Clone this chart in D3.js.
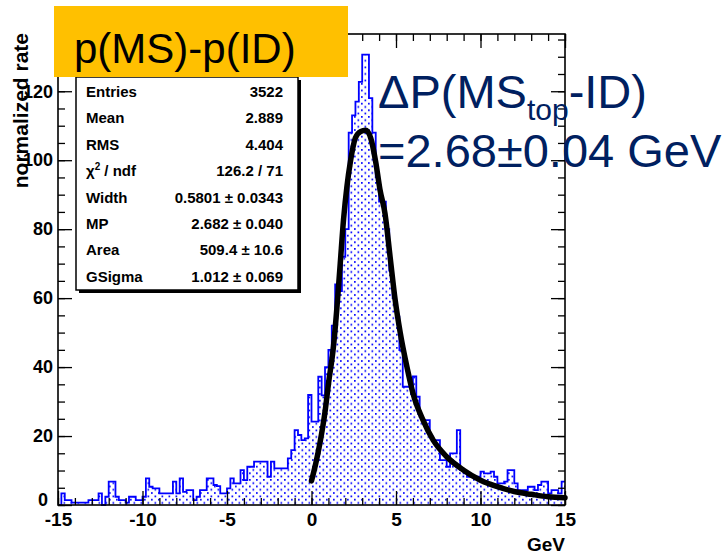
<!DOCTYPE html>
<html><head><meta charset="utf-8">
<script src="https://cdn.jsdelivr.net/npm/d3@7"></script>
<style>
body{margin:0;background:#fff}
svg{display:block}
text{font-family:"Liberation Sans",Arial,Helvetica,sans-serif}
</style>
</head><body>
<svg id="c" width="728" height="554"></svg>
<script>
// ---- data ----
const binStart = -15;
const binWidth = 0.2;
const binValues = [
  0,3.4,1.4,1.4,0.7,0.7,0.7,0.7,0.7,1.4,
  1.4,1.4,3.4,0,2.4,6.8,6.8,2.4,1.4,1.4,
  0.7,2.4,2.4,1.4,1.4,2.4,7.7,5.3,4.8,4.8,
  3.4,3.4,3.4,3.4,6.8,3.4,7.7,3.8,4.3,4.3,
  1.4,2.4,4.3,4.3,7.7,7.7,5.8,5.5,3.4,3.4,
  4.8,7.7,6.3,6.3,10.1,7.2,11.1,11.1,12.6,12.6,
  12.6,12.6,8.2,12.6,10.6,10.6,10.6,10.6,13.5,15.9,
  21.7,20.3,18.8,19.3,31.9,24.2,24.2,37.2,31.8,40,
  45,52,64,62,72,80,108,113,117,122.7,
  130.6,130.6,118,108,95,88,88,80,68,60,
  54.6,44.9,34.3,34.3,34.3,37.3,31.4,25.6,24.6,24.6,
  19.8,18.8,18.8,13.0,13.0,11.1,15.0,15.0,21.7,10.1,
  9.2,8.2,8.2,8.2,8.2,9.7,9.2,9.2,9.7,8.2,
  6.3,6.3,6.8,10.1,10.1,6.3,4.3,4.3,4.3,5.3,
  5.3,4.3,5.8,6.8,6.8,3.4,4.3,4.3,3.4,6.8
];
const fitX = [0,0.25,0.5,0.8,1.0,1.3,1.5,1.7,1.9,2.1,2.3,2.6,2.9,3.2,3.5,3.8,4.05,4.35,4.65,4.95,5.25,5.65,6.0,6.6,7.2,8.0,9.0,10.0,11.0,12.0,13.0,14.0,15.0];
const fitY = [7,12,18,27,35,46,57,70,83,92.5,99.5,106.5,108.3,108.7,106.5,99.5,91.5,84.5,72,59.5,50,40,32.5,24.6,18.8,14,10.1,7.2,5.3,3.9,3.1,2.4,2.1];
const xTickLabels = [-15,-10,-5,0,5,10,15];
const yTickLabels = [0,20,40,60,80,100,120];
const statNames = ["Entries","Mean","RMS","χ2 / ndf","Width","MP","Area","GSigma"];
const statValues = ["3522","2.889","4.404","126.2 / 71","0.5801 ± 0.0343","2.682 ± 0.040","509.4 ± 10.6","1.012 ± 0.069"];
const titleText = "p(MS)-p(ID)";
const yTitle = "normalized rate";
const xTitle = "GeV";

// ---- drawing ----
const svg = d3.select("#c");
const L = 58, R = 565, T = 34, B = 505;
const x = d3.scaleLinear().domain([-15, 15]).range([L, R]);
const y = d3.scaleLinear().domain([0, 136.6]).range([B, T]);

const defs = svg.append("defs");
const pat = defs.append("pattern").attr("id", "dots")
  .attr("patternUnits", "userSpaceOnUse").attr("width", 7).attr("height", 6.6);
pat.append("rect").attr("x", 0.5).attr("y", 0.5).attr("width", 1.7).attr("height", 1.7).attr("fill", "#0000ff");
pat.append("rect").attr("x", 4).attr("y", 3.8).attr("width", 1.7).attr("height", 1.7).attr("fill", "#0000ff");

const bins = binValues.map((v, i) => ({ x0: binStart + i * binWidth, v }));
const steps = bins.concat([{ x0: binStart + bins.length * binWidth, v: binValues[binValues.length - 1] }]);

svg.append("path").datum(steps)
  .attr("d", d3.area().curve(d3.curveStepAfter).x(d => x(d.x0)).y0(y(0)).y1(d => y(d.v)))
  .attr("fill", "url(#dots)");
svg.append("path").datum(steps)
  .attr("d", d3.line().curve(d3.curveStepAfter).x(d => x(d.x0)).y(d => y(d.v)))
  .attr("fill", "none").attr("stroke", "#0000ff").attr("stroke-width", 1.8);

// fit curve
svg.append("path").datum(fitX.map((d, i) => [d, fitY[i]]))
  .attr("d", d3.line().curve(d3.curveMonotoneX).x(d => x(d[0])).y(d => y(d[1])))
  .attr("fill", "none").attr("stroke", "#000").attr("stroke-width", 5.5)
  .attr("stroke-linejoin", "round").attr("stroke-linecap", "round");

// axes ticks
function tickAxis(axis, tr, size, vals) {
  const g = svg.append("g").attr("transform", tr)
    .call(axis.tickValues(vals).tickSize(-size).tickSizeOuter(0).tickFormat(""));
  g.select(".domain").remove();
  g.selectAll("line").attr("stroke", "#000").attr("stroke-width", 1.3);
  return g;
}
const xMinor = d3.range(-15, 15.001, 1), xMajor = xTickLabels;
const yMinor = d3.range(0, 136, 5), yMajor = yTickLabels;
tickAxis(d3.axisBottom(x), `translate(0,${B})`, 7, xMinor);
tickAxis(d3.axisBottom(x), `translate(0,${B})`, 14, xMajor);
tickAxis(d3.axisTop(x), `translate(0,${T})`, 7, xMinor);
tickAxis(d3.axisTop(x), `translate(0,${T})`, 14, xMajor);
tickAxis(d3.axisLeft(y), `translate(${L},0)`, 7, yMinor);
tickAxis(d3.axisLeft(y), `translate(${L},0)`, 14, yMajor);
tickAxis(d3.axisRight(y), `translate(${R},0)`, 7, yMinor);
tickAxis(d3.axisRight(y), `translate(${R},0)`, 14, yMajor);

// frame
svg.append("rect").attr("x", L).attr("y", T).attr("width", R - L).attr("height", B - T)
  .attr("fill", "none").attr("stroke", "#000").attr("stroke-width", 1.6);

// tick labels
const gxl = svg.append("g").attr("transform", `translate(0,${B})`)
  .call(d3.axisBottom(x).tickValues(xTickLabels).tickSize(0).tickPadding(8).tickFormat(d => String(d)));
gxl.select(".domain").remove();
gxl.selectAll("text").attr("font-size", 19).attr("font-weight", "bold").attr("fill", "#000")
  .attr("font-family", "Liberation Sans, Arial, sans-serif");
const gyl = svg.append("g").attr("transform", `translate(${L},0)`)
  .call(d3.axisLeft(y).tickValues(yTickLabels).tickSize(0).tickPadding(5).tickFormat(d => String(d)));
gyl.select(".domain").remove();
gyl.selectAll("text").attr("font-size", 18).attr("font-weight", "bold").attr("fill", "#000")
  .attr("font-family", "Liberation Sans, Arial, sans-serif");
// ROOT shifts the origin label up/left to avoid the x labels
gyl.selectAll(".tick").filter(d => d === 0).select("text").attr("x", -10).attr("dy", "0.05em");

// axis titles
svg.append("text").attr("transform", "translate(28,33) rotate(-90)")
  .attr("text-anchor", "end").attr("font-size", 21).attr("font-weight", "bold").text(yTitle);
svg.append("text").attr("x", 565).attr("y", 551).attr("text-anchor", "end")
  .attr("font-size", 19).attr("font-weight", "bold").text(xTitle);

// stats box
const bx = 76, by = 77, bw = 222, bh = 213;
svg.append("rect").attr("x", bx + 3).attr("y", by + 3).attr("width", bw).attr("height", bh).attr("fill", "#000");
svg.append("rect").attr("x", bx).attr("y", by).attr("width", bw).attr("height", bh)
  .attr("fill", "#fff").attr("stroke", "#000").attr("stroke-width", 1.5);
statNames.forEach((n, i) => {
  const yy = 97 + 26.4 * i;
  const t = svg.append("text").attr("x", 86).attr("y", yy).attr("font-size", 15).attr("font-weight", "bold");
  if (n.startsWith("χ2")) {
    t.append("tspan").text("χ");
    t.append("tspan").attr("font-size", 10).attr("dy", -6).text("2");
    t.append("tspan").attr("dy", 6).text(" / ndf");
  } else t.text(n);
  svg.append("text").attr("x", 283).attr("y", yy).attr("text-anchor", "end")
    .attr("font-size", 15).attr("font-weight", "bold").text(statValues[i]);
});

// orange title box
svg.append("rect").attr("x", 54).attr("y", 6).attr("width", 294).attr("height", 71).attr("fill", "#FFC000");
svg.append("text").attr("x", 74).attr("y", 63).attr("font-size", 42).attr("fill", "#000").text(titleText);

// annotation
const navy = "#002060";
const a1 = svg.append("text").attr("x", 378).attr("y", 108).attr("font-size", 47).attr("fill", navy);
a1.append("tspan").text("ΔP(MS");
a1.append("tspan").attr("font-size", 30).attr("dy", 12).text("top");
a1.append("tspan").attr("dy", -12).text("-ID)");
svg.append("text").attr("x", 378).attr("y", 167).attr("font-size", 47).attr("fill", navy)
  .text("=2.68±0.04 GeV");
</script>
</body></html>
